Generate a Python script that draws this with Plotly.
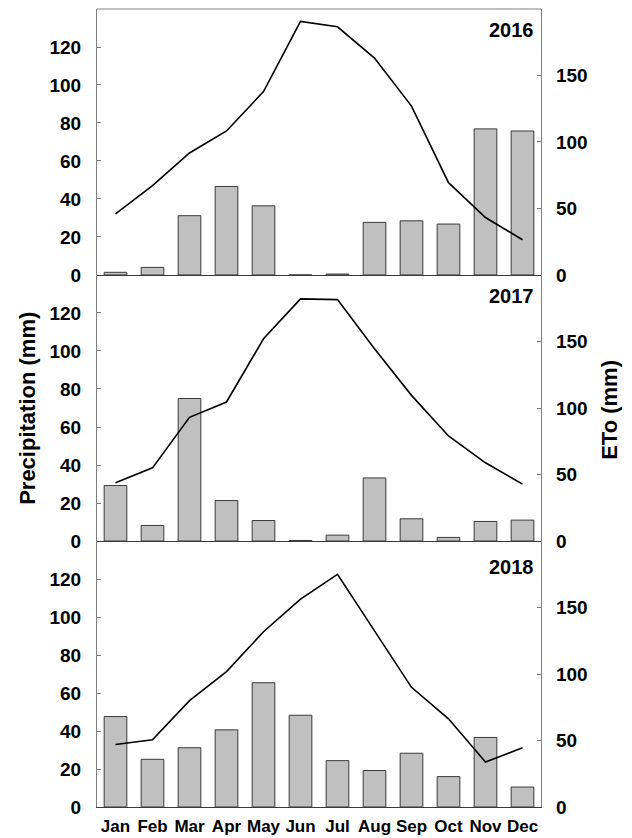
import plotly.graph_objects as go

months = ["Jan", "Feb", "Mar", "Apr", "May", "Jun", "Jul", "Aug", "Sep", "Oct", "Nov", "Dec"]
years = ["2016", "2017", "2018"]

precip_2016 = [1.4, 4.0, 31.2, 46.6, 36.4, 0.0, 0.5, 27.7, 28.5, 26.8, 76.9, 75.8]
precip_2017 = [29.2, 8.2, 75.0, 21.3, 10.8, 0.3, 3.1, 33.2, 11.7, 1.9, 10.3, 11.0]
precip_2018 = [47.6, 25.1, 31.2, 40.6, 65.4, 48.3, 24.4, 19.2, 28.3, 16.0, 36.6, 10.5]

eto_2016 = [46.0, 67.2, 91.7, 108.3, 137.9, 190.7, 186.6, 163.1, 127.0, 69.4, 43.2, 26.5]
eto_2017 = [43.8, 55.0, 93.0, 104.5, 152.0, 182.0, 181.5, 144.5, 109.5, 79.0, 58.8, 42.8]
eto_2018 = [47.0, 50.5, 80.0, 101.8, 131.8, 156.3, 175.0, 133.0, 90.0, 66.3, 33.8, 44.5]

precip_ticks = [0, 20, 40, 60, 80, 100, 120]
eto_ticks = [0, 50, 100, 150]

precip = [precip_2016, precip_2017, precip_2018]
eto = [eto_2016, eto_2017, eto_2018]

FONT = "Liberation Sans, Arial, sans-serif"
GREY = "#808080"
DARK = "#3a3a3a"

domains = [[0.6667, 1.0], [0.3333, 0.6667], [0.0, 0.3333]]
year_y = [0.9737, 0.6404, 0.3011]

fig = go.Figure()
layout = dict(
    width=616, height=830,
    margin=dict(l=89, r=83, t=1, b=31, autoexpand=False),
    paper_bgcolor="white", plot_bgcolor="white",
    showlegend=False,
    bargap=0.387,
    font=dict(family=FONT, size=18, color="black", weight="bold"),
)

annotations = []
for i in range(3):
    xn = "x" if i == 0 else f"x{i+1}"
    yl = f"y{2*i+1}" if i > 0 else "y"
    yr = f"y{2*i+2}"
    fig.add_trace(go.Bar(
        x=months, y=precip[i], xaxis=xn, yaxis=yl,
        marker=dict(color="#c0c0c0", line=dict(color=DARK, width=1)),
        name="Precipitation " + years[i],
    ))
    fig.add_trace(go.Scatter(
        x=months, y=eto[i], xaxis=xn, yaxis=yr, mode="lines",
        line=dict(color="black", width=1.6),
        name="ETo " + years[i],
    ))
    xkey = "xaxis" if i == 0 else f"xaxis{i+1}"
    ylkey = "yaxis" if i == 0 else f"yaxis{2*i+1}"
    yrkey = f"yaxis{2*i+2}"
    layout[xkey] = dict(
        domain=[0, 1], anchor=yl, range=[-0.5, 11.5], automargin=False,
        categoryorder="array", categoryarray=months,
        showline=True, linecolor=DARK, linewidth=1.2,
        ticks="", showgrid=False, zeroline=False,
        showticklabels=(i == 2),
        tickfont=dict(size=17, family=FONT, weight="bold"),
        ticklabelstandoff=3,
    )
    if i > 0:
        layout[xkey]["matches"] = "x"
    layout[ylkey] = dict(
        domain=domains[i], anchor=xn, range=[0, 140], automargin=False,
        tickmode="array", tickvals=precip_ticks,
        showline=True, linecolor=GREY, linewidth=1.2,
        ticks="inside", ticklen=4, tickcolor=GREY,
        showgrid=False, zeroline=False,
        tickfont=dict(size=19, family=FONT, weight="bold"),
        ticklabelstandoff=11,
    )
    layout[yrkey] = dict(
        domain=domains[i], anchor=xn, overlaying=yl, side="right",
        range=[0, 200], tickmode="array", tickvals=eto_ticks, automargin=False,
        showline=True, linecolor=GREY, linewidth=1.2,
        ticks="inside", ticklen=4, tickcolor=GREY,
        showgrid=False, zeroline=False,
        tickfont=dict(size=19, family=FONT, weight="bold"),
        ticklabelstandoff=10,
    )
    annotations.append(dict(
        text=years[i], xref="paper", yref="paper", x=0.9887, y=year_y[i],
        xanchor="right", yanchor="middle", showarrow=False,
        font=dict(size=20, family=FONT, weight="bold"),
    ))

annotations.append(dict(
    text="Precipitation (mm)", xref="paper", yref="paper", x=-0.158, y=0.5,
    xanchor="center", yanchor="middle", textangle=-90, showarrow=False,
    font=dict(size=22, family=FONT, weight="bold"),
))
annotations.append(dict(
    text="ETo (mm)", xref="paper", yref="paper", x=1.155, y=0.4975,
    xanchor="center", yanchor="middle", textangle=-90, showarrow=False,
    font=dict(size=22, family=FONT, weight="bold"),
))
layout["annotations"] = annotations
layout["shapes"] = [dict(
    type="line", xref="paper", yref="paper", x0=0, x1=1, y0=1, y1=1,
    line=dict(color=GREY, width=1.2),
)]

fig.update_layout(**layout)
fig.write_html("out.html")
